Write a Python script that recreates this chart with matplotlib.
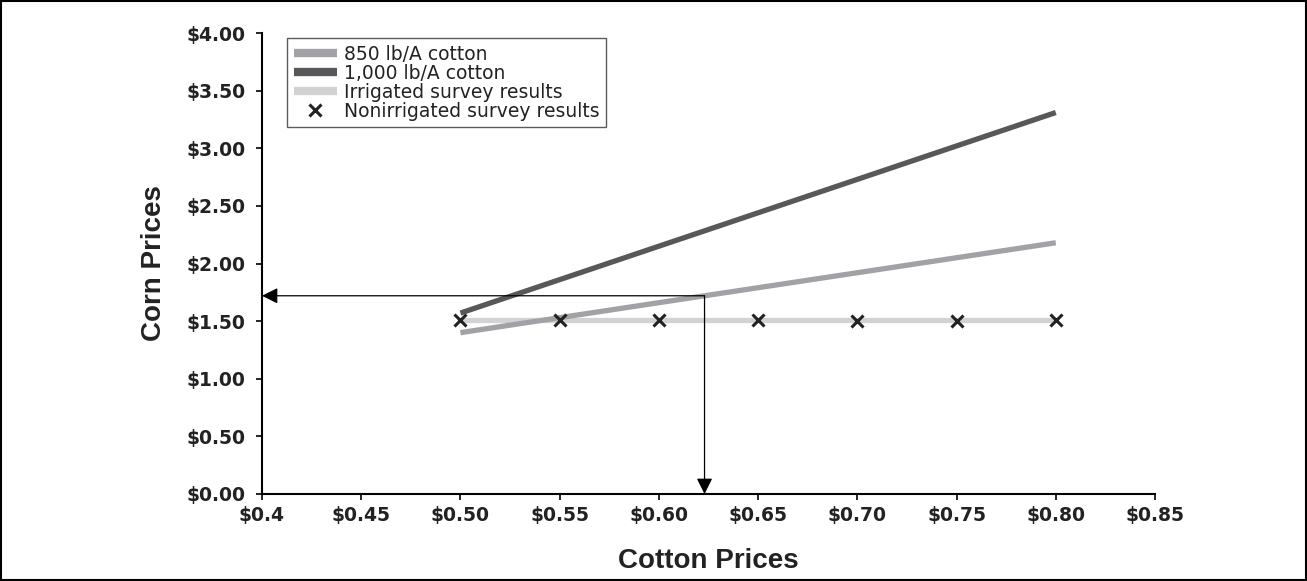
import matplotlib
matplotlib.use("Agg")
import matplotlib.pyplot as plt
from matplotlib.patches import Rectangle

plt.rcParams['font.family'] = ['Liberation Sans', 'DejaVu Sans']

cotton_prices = [0.50, 0.55, 0.60, 0.65, 0.70, 0.75, 0.80]
corn_850 = [1.40, 1.53, 1.66, 1.79, 1.92, 2.05, 2.18]
corn_1000 = [1.57, 1.86, 2.15, 2.44, 2.73, 3.02, 3.31]
irrigated = [1.51, 1.51, 1.51, 1.51, 1.51, 1.51, 1.51]
nonirrigated = [1.51, 1.51, 1.51, 1.51, 1.50, 1.50, 1.51]
x_ticks = [0.40, 0.45, 0.50, 0.55, 0.60, 0.65, 0.70, 0.75, 0.80, 0.85]
x_tick_labels = ['$0.4', '$0.45', '$0.50', '$0.55', '$0.60', '$0.65', '$0.70', '$0.75', '$0.80', '$0.85']
y_ticks = [0.0, 0.5, 1.0, 1.5, 2.0, 2.5, 3.0, 3.5, 4.0]
y_tick_labels = ['$0.00', '$0.50', '$1.00', '$1.50', '$2.00', '$2.50', '$3.00', '$3.50', '$4.00']
example_cotton = 0.623
example_corn = 1.72

fig = plt.figure(figsize=(13.07, 5.81), dpi=100)
ax = fig.add_axes([262/1307, 87/581, (1155-262)/1307, (494-33)/581])

ax.plot(cotton_prices, irrigated, color='#d2d2d2', lw=3.8, label='Irrigated survey results', zorder=2, solid_capstyle='butt')
ax.plot(cotton_prices, corn_850, color='#a2a2a6', lw=3.8, label='850 lb/A cotton', zorder=3, solid_capstyle='butt')
ax.plot(cotton_prices, corn_1000, color='#58585a', lw=3.8, label='1,000 lb/A cotton', zorder=3, solid_capstyle='butt')
ax.plot(cotton_prices, nonirrigated, linestyle='none', marker='x', color='#222222',
        markersize=8.5, markeredgewidth=2.2, label='Nonirrigated survey results', zorder=4)

# arrows
ax.annotate('', xy=(0.40, example_corn), xytext=(example_cotton, example_corn),
            arrowprops=dict(arrowstyle='-|>', color='black', lw=0.9, mutation_scale=24, shrinkA=0, shrinkB=0), zorder=5)
ax.annotate('', xy=(example_cotton, 0.0), xytext=(example_cotton, example_corn),
            arrowprops=dict(arrowstyle='-|>', color='black', lw=0.9, mutation_scale=24, shrinkA=0, shrinkB=0), zorder=5)

tick_font = dict(family='DejaVu Sans', size=13.5, weight='bold')
ax.set_xlim(0.40, 0.85)
ax.set_ylim(0.0, 4.0)
ax.set_xticks(x_ticks)
ax.set_xticklabels(x_tick_labels, fontdict=tick_font, color='#222222')
ax.set_yticks(y_ticks)
ax.set_yticklabels(y_tick_labels, fontdict=tick_font, color='#222222')
ax.tick_params(axis='x', direction='out', length=4, width=1.2, pad=5)
ax.tick_params(axis='y', direction='out', length=4, width=1.2, pad=8)
ax.spines['top'].set_visible(False)
ax.spines['right'].set_visible(False)
ax.spines['left'].set_linewidth(1.5)
ax.spines['bottom'].set_linewidth(1.5)

ax.set_xlabel('Cotton Prices', fontsize=20, fontweight='bold', color='#222222', labelpad=16)
ax.set_ylabel('Corn Prices', fontsize=20, fontweight='bold', color='#222222', labelpad=14)

h, l = ax.get_legend_handles_labels()
order = [1, 2, 0, 3]
leg = ax.legend([h[i] for i in order], [l[i] for i in order], loc='upper left',
                bbox_to_anchor=(25/893, 1.0 - 5/461), frameon=True,
                prop=dict(family='DejaVu Sans', size=13.5),
                fancybox=False, edgecolor='#333333', handlelength=2.3, handletextpad=0.4,
                labelspacing=0.0, borderpad=0.35, borderaxespad=0)
leg.get_frame().set_linewidth(1.0)
for t in leg.get_texts():
    t.set_color('#222222')
for hd in leg.legend_handles[:3]:
    hd.set_linewidth(6)

fig.patches.append(Rectangle((0.001, 0.001), 0.998, 0.997, transform=fig.transFigure,
                             fill=False, edgecolor='black', lw=1.5))

fig.savefig('out.png', dpi=100)
